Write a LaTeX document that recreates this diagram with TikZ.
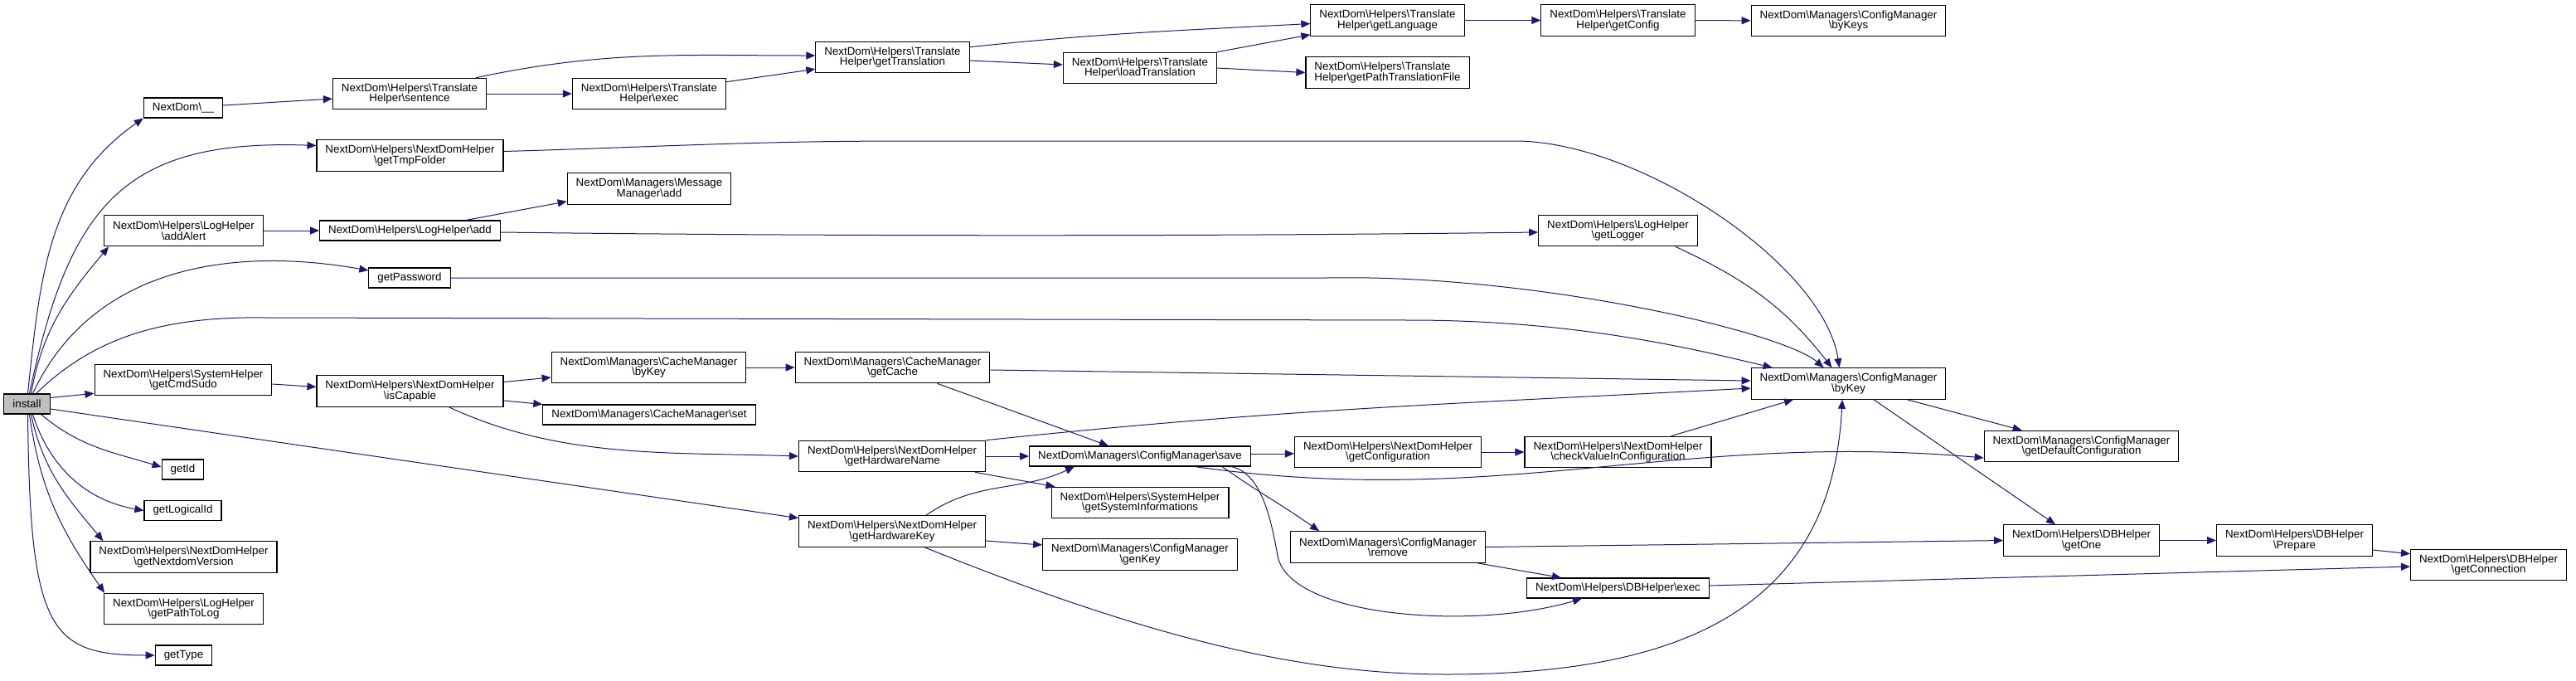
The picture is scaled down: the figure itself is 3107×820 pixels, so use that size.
\documentclass[tikz,border=0pt]{standalone}
\usepackage{fontspec}
\setmainfont{Liberation Sans}
\usepackage{xcolor}
\usetikzlibrary{arrows.meta}
\definecolor{edgeblue}{HTML}{191970}
\definecolor{rootgray}{HTML}{BFBFBF}
\newcommand{\bs}{\textbackslash}

\begin{document}
\begin{tikzpicture}[x=1pt,y=1pt,
    fn/.style={draw=black, line width=1.1pt, fill=white, align=center,
      font=\fontsize{13.35}{12.5}\selectfont, inner xsep=10.5pt, inner ysep=4pt, minimum height=24pt},
    two/.style={minimum height=37.5pt},
    call/.style={draw=edgeblue, line width=1pt, -{Triangle[length=11pt,width=9pt]}}]
    \useasboundingbox (0,0) rectangle (3107,-820);

    \node[fn,fill=rootgray] (install) at (32.5,-487) {install};

    \node[fn] (dunder) at (221,-130) {NextDom\bs\_\_};
    \node[fn,two] (sentence) at (494,-113) {NextDom\bs Helpers\bs Translate\\Helper\bs sentence};
    \node[fn,two] (trexec) at (783,-113) {NextDom\bs Helpers\bs Translate\\Helper\bs exec};
    \node[fn,two] (gettrans) at (1076.5,-69) {NextDom\bs Helpers\bs Translate\\Helper\bs getTranslation};
    \node[fn,two] (loadtrans) at (1375,-82) {NextDom\bs Helpers\bs Translate\\Helper\bs loadTranslation};
    \node[fn,two] (getlang) at (1673.5,-24.5) {NextDom\bs Helpers\bs Translate\\Helper\bs getLanguage};
    \node[fn,two] (getconf) at (1951.5,-24.5) {NextDom\bs Helpers\bs Translate\\Helper\bs getConfig};
    \node[fn,two] (bykeys) at (2229.5,-25) {NextDom\bs Managers\bs ConfigManager\\\bs byKeys};
    \node[fn,two,align=left] (pathfile) at (1673.5,-87.5) {NextDom\bs Helpers\bs Translate\\Helper\bs getPathTranslationFile};

    \node[fn,two] (tmpfolder) at (494.5,-187.5) {NextDom\bs Helpers\bs NextDomHelper\\\bs getTmpFolder};
    \node[fn,two] (msgadd) at (783,-227.5) {NextDom\bs Managers\bs Message\\Manager\bs add};
    \node[fn,two] (addalert) at (221.5,-278) {NextDom\bs Helpers\bs LogHelper\\\bs addAlert};
    \node[fn] (logadd) at (494.5,-278) {NextDom\bs Helpers\bs LogHelper\bs add};
    \node[fn,two] (getlogger) at (1951.5,-278) {NextDom\bs Helpers\bs LogHelper\\\bs getLogger};
    \node[fn] (password) at (494,-335) {getPassword};

    \node[fn,two] (cmdsudo) at (221,-458) {NextDom\bs Helpers\bs SystemHelper\\\bs getCmdSudo};
    \node[fn,two] (iscap) at (494.5,-471.5) {NextDom\bs Helpers\bs NextDomHelper\\\bs isCapable};
    \node[fn,two] (cbykey) at (782.5,-443) {NextDom\bs Managers\bs CacheManager\\\bs byKey};
    \node[fn] (cset) at (783,-500) {NextDom\bs Managers\bs CacheManager\bs set};
    \node[fn,two] (getcache) at (1076.5,-443) {NextDom\bs Managers\bs CacheManager\\\bs getCache};
    \node[fn,two] (hwname) at (1076,-550) {NextDom\bs Helpers\bs NextDomHelper\\\bs getHardwareName};
    \node[fn] (save) at (1375,-550) {NextDom\bs Managers\bs ConfigManager\bs save};
    \node[fn,two] (sysinfo) at (1375,-606) {NextDom\bs Helpers\bs SystemHelper\\\bs getSystemInformations};
    \node[fn,two] (hwkey) at (1076,-640.5) {NextDom\bs Helpers\bs NextDomHelper\\\bs getHardwareKey};
    \node[fn,two] (genkey) at (1375,-668.5) {NextDom\bs Managers\bs ConfigManager\\\bs genKey};
    \node[fn,two] (cfgbykey) at (2229.5,-462.5) {NextDom\bs Managers\bs ConfigManager\\\bs byKey};
    \node[fn,two] (getconfn) at (1674,-545) {NextDom\bs Helpers\bs NextDomHelper\\\bs getConfiguration};
    \node[fn,two] (checkval) at (1951.5,-545) {NextDom\bs Helpers\bs NextDomHelper\\\bs checkValueInConfiguration};
    \node[fn,two] (remove) at (1674,-659.5) {NextDom\bs Managers\bs ConfigManager\\\bs remove};
    \node[fn] (dbexec) at (1951.5,-709) {NextDom\bs Helpers\bs DBHelper\bs exec};
    \node[fn,two] (defcfg) at (2510.5,-538) {NextDom\bs Managers\bs ConfigManager\\\bs getDefaultConfiguration};
    \node[fn,two] (getone) at (2510.5,-651.5) {NextDom\bs Helpers\bs DBHelper\\\bs getOne};
    \node[fn,two] (prepare) at (2767.5,-651.5) {NextDom\bs Helpers\bs DBHelper\\\bs Prepare};
    \node[fn,two] (getconn) at (3001.5,-681) {NextDom\bs Helpers\bs DBHelper\\\bs getConnection};

    \node[fn] (getid) at (220.5,-566) {getId};
    \node[fn] (logicalid) at (220.5,-615.5) {getLogicalId};
    \node[fn,two] (ndversion) at (221.5,-671.5) {NextDom\bs Helpers\bs NextDomHelper\\\bs getNextdomVersion};
    \node[fn,two] (pathtolog) at (221.5,-734) {NextDom\bs Helpers\bs LogHelper\\\bs getPathToLog};
    \node[fn] (gettype) at (221.5,-790) {getType};

    \draw[call] ([xshift=1pt]install.north) to[out=84,in=215] (dunder.south west);
    \draw[call] ([xshift=3pt]install.north) to[out=78,in=178,looseness=1.3] ([yshift=12pt]tmpfolder.west);
    \draw[call] ([xshift=5pt]install.north) to[out=80,in=230] ([xshift=6pt]addalert.south west);
    \draw[call] ([xshift=7pt]install.north) to[out=65,in=170] ([yshift=9pt]password.west);
    \draw[call] ([xshift=11pt]install.north) .. controls (110,-410) and (190,-381) .. (320,-383)
        -- (1700,-386) .. controls (1900,-386) and (2040,-420) .. ([xshift=26pt]cfgbykey.north west);
    \draw[call] (install.15) -- ([yshift=3pt]cmdsudo.south west);
    \draw[call] (install.-12) -- (hwkey.172);
    \draw[call] ([xshift=17pt]install.south) to[out=-40,in=163] ([yshift=3pt]getid.west);
    \draw[call] ([xshift=7pt]install.south) to[out=-72,in=170] (logicalid.west);
    \draw[call] ([xshift=5pt]install.south) to[out=-78,in=130] ([xshift=16pt]ndversion.north west);
    \draw[call] ([xshift=3pt]install.south) to[out=-82,in=125] ([xshift=1pt]pathtolog.north west);
    \draw[call] ([xshift=1pt]install.south) .. controls +(2.5,-261) and +(-127,0) .. (gettype.west);

    \draw[call] ([yshift=3pt]dunder.east) -- ([yshift=-6pt]sentence.west);
    \draw[call] (sentence.east) -- (trexec.west);
    \draw[call] ([xshift=-13pt]sentence.north east) to[out=12,in=180] ([yshift=2pt]gettrans.west);
    \draw[call] ([yshift=-5pt]trexec.north east) -- ([yshift=5pt]gettrans.south west);
    \draw[call] ([yshift=-7pt]gettrans.north east) to[out=6,in=183] ([yshift=-4pt]getlang.west);
    \draw[call] ([yshift=-4pt]gettrans.east) -- ([yshift=4pt]loadtrans.west);
    \draw[call] (loadtrans.north east) -- ([yshift=2pt]getlang.south west);
    \draw[call] (loadtrans.east) -- (pathfile.west);
    \draw[call] (getlang) -- (getconf);
    \draw[call] (getconf) -- (bykeys);

    \draw[call] ([yshift=5pt]tmpfolder.east) .. controls (800,-177) and (900,-170) .. (1100,-170)
        -- (1830,-170) .. controls (1980,-172) and (2200,-320) .. ([xshift=-11pt]cfgbykey.north);
    \draw[call] (addalert.east) -- (logadd.west);
    \draw[call] ([xshift=-42pt]logadd.north east) -- ([yshift=4pt]msgadd.south west);
    \draw[call] ([yshift=-2pt]logadd.east) .. controls +(400,-5) and +(-400,-5) .. ([yshift=-2pt]getlogger.west);
    \draw[call] ([xshift=-27pt]getlogger.south east) to[out=-25,in=128] ([xshift=-20pt]cfgbykey.north);
    \draw[call] (password.east) -- (1600,-335) .. controls (1850,-330) and (2150,-400) .. ([xshift=-30pt]cfgbykey.north);

    \draw[call] ([yshift=-5pt]cmdsudo.east) -- ([yshift=5pt]iscap.west);
    \draw[call] ([yshift=11pt]iscap.east) -- ([yshift=-12pt]cbykey.west);
    \draw[call] ([yshift=-11.5pt]iscap.east) -- (cset.north west);
    \draw[call] ([xshift=-66pt]iscap.south east) to[out=-25,in=178,looseness=0.9] (hwname.west);
    \draw[call] (cbykey.east) -- (getcache.west);
    \draw[call] ([yshift=-3pt]getcache.east) -- ([yshift=3.5pt]cfgbykey.west);
    \draw[call] ([xshift=-64pt]getcache.south east) -- ([xshift=-38pt]save.north);
    \draw[call] (hwname.north east) to[out=6,in=183] ([yshift=-5.5pt]cfgbykey.west);
    \draw[call] (hwname.east) -- (save.west);
    \draw[call] ([xshift=-13pt]hwname.south east) -- ([xshift=5pt]sysinfo.north west);
    \draw[call] ([xshift=-72pt]hwkey.north east) to[out=35,in=205] ([xshift=-79pt]save.south);
    \draw[call] ([yshift=-11.5pt]hwkey.east) -- ([yshift=11.5pt]genkey.west);
    \draw[call] ([xshift=39pt]hwkey.south) .. controls (1400,-775) and (1580,-813) .. (1745,-813)
        .. controls (2050,-813) and (2210,-720) .. ([xshift=-7.5pt]cfgbykey.south);

    \draw[call] ([yshift=3pt]save.east) -- ([yshift=-2pt]getconfn.west);
    \draw[call] (getconfn.east) -- (checkval.west);
    \draw[call] ([xshift=-49pt]checkval.north east) -- ([xshift=-66.5pt]cfgbykey.south);
    \draw[call] ([xshift=66pt]save.south) to[out=-8,in=175] ([yshift=-14pt]defcfg.west);
    \draw[call] ([xshift=99pt]save.south) to[out=-35,in=145] ([xshift=35pt]remove.north west);
    \draw[call] ([xshift=110pt]save.south) .. controls (1520,-570) and (1532,-620) .. (1541,-670)
        .. controls (1555,-745) and (1780,-760) .. ([xshift=-43.5pt]dbexec.south);
    \draw[call] (remove.east) -- (getone.west);
    \draw[call] ([xshift=-10pt]remove.south east) -- ([xshift=-68.5pt]dbexec.north);
    \draw[call] ([yshift=3pt]dbexec.east) -- ([yshift=-2pt]getconn.west);
    \draw[call] (getone.east) -- (prepare.west);
    \draw[call] ([yshift=-11.5pt]prepare.east) -- ([yshift=-6pt]getconn.north west);
    \draw[call] ([xshift=-47pt]cfgbykey.south east) -- ([xshift=46pt]defcfg.north west);
    \draw[call] ([xshift=30.5pt]cfgbykey.south) -- ([xshift=-31.5pt]getone.north);
\end{tikzpicture}
\end{document}
